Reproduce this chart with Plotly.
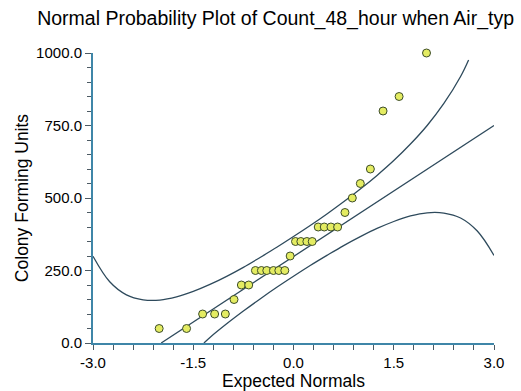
import plotly.graph_objects as go

# Observed points (expected normal score, colony forming units)
expected_normals = [-2.01, -1.60, -1.36, -1.18, -1.02, -0.89, -0.78, -0.67, -0.57, -0.48,
                    -0.40, -0.30, -0.22, -0.13, -0.05, 0.03, 0.11, 0.20, 0.28, 0.37,
                    0.46, 0.56, 0.66, 0.77, 0.88, 1.00, 1.15, 1.34, 1.58, 1.99]
cfu_counts = [50, 50, 100, 100, 100, 150, 200, 200, 250, 250,
              250, 250, 250, 250, 300, 350, 350, 350, 350, 400,
              400, 400, 400, 450, 500, 550, 600, 800, 850, 1000]

# Reference (fitted) line
fit_x = [-1.98, 3.0]
fit_y = [0, 750]

# Upper confidence band
upper_x = [-3.0, -2.75, -2.5, -2.25, -2.0, -1.75, -1.5, -1.25, -1.0, -0.75, -0.5, -0.25,
           0.0, 0.25, 0.5, 0.75, 1.0, 1.25, 1.5, 1.75, 2.0, 2.25, 2.5, 2.62]
upper_y = [299, 211, 166, 149, 148, 159, 178, 202, 230, 261, 295, 330,
           367, 405, 445, 487, 531, 578, 629, 686, 750, 826, 919, 976]

# Lower confidence band
lower_x = [-1.34, -1.25, -1.0, -0.75, -0.5, -0.25, 0.0, 0.25, 0.5, 0.75, 1.0,
           1.25, 1.5, 1.75, 2.0, 2.25, 2.5, 2.75, 3.0]
lower_y = [0, 19, 66, 110, 152, 192, 230, 267, 302, 336, 367,
           395, 419, 438, 449, 448, 431, 386, 302]

x_tickvals = [-3.0, -1.5, 0.0, 1.5, 3.0]
x_ticktext = ["-3.0", "-1.5", "0.0", "1.5", "3.0"]
y_tickvals = [0, 250, 500, 750, 1000]
y_ticktext = ["0.0", "250.0", "500.0", "750.0", "1000.0"]

curve_color = "#2e4a5c"
axis_color = "#3f86a8"
tick_color = "#4d5a63"
font_family = "Liberation Sans, Arial, sans-serif"

fig = go.Figure()
fig.add_trace(go.Scatter(x=upper_x, y=upper_y, mode="lines", line=dict(color=curve_color, width=1.3, shape="spline"),
                         hoverinfo="skip", showlegend=False))
fig.add_trace(go.Scatter(x=lower_x, y=lower_y, mode="lines", line=dict(color=curve_color, width=1.3, shape="spline"),
                         hoverinfo="skip", showlegend=False))
fig.add_trace(go.Scatter(x=fit_x, y=fit_y, mode="lines", line=dict(color=curve_color, width=1.3),
                         hoverinfo="skip", showlegend=False))
fig.add_trace(go.Scatter(x=expected_normals, y=cfu_counts, mode="markers",
                         marker=dict(size=8, color="#e4ec62", line=dict(color="#3d4d2a", width=1)),
                         cliponaxis=False, showlegend=False))

fig.update_layout(
    width=521, height=391,
    margin=dict(l=93, r=27, t=53, b=48),
    paper_bgcolor="white", plot_bgcolor="white",
    font=dict(family=font_family, color="black", size=15),
    title=dict(text="Normal Probability Plot of Count_48_hour when Air_typ",
               x=0.529, xref="container", xanchor="center",
               y=1 - 18 / 391, yref="container", yanchor="middle",
               font=dict(size=19.5, color="black")),
    xaxis=dict(range=[-3, 3], showgrid=False, zeroline=False, automargin=False,
               showline=True, linecolor=axis_color, linewidth=2,
               ticks="outside", ticklen=5, tickcolor=tick_color, tickwidth=1.3,
               tickvals=x_tickvals, ticktext=x_ticktext,
               minor=dict(dtick=0.3, tick0=-3, ticks="outside", ticklen=5, tickcolor=tick_color, tickwidth=1.3),
               title=dict(text="Expected Normals", font=dict(size=17.5), standoff=4)),
    yaxis=dict(range=[0, 1000], showgrid=False, zeroline=False, automargin=False,
               showline=True, linecolor=axis_color, linewidth=2,
               ticks="outside", ticklen=6, tickcolor=tick_color, tickwidth=1.3,
               tickvals=y_tickvals, ticktext=y_ticktext,
               minor=dict(dtick=50, tick0=0, ticks="outside", ticklen=4, tickcolor=tick_color, tickwidth=1.3),
               title=dict(text="Colony Forming Units", font=dict(size=17.5), standoff=3)),
)

fig.write_html("out.html")
